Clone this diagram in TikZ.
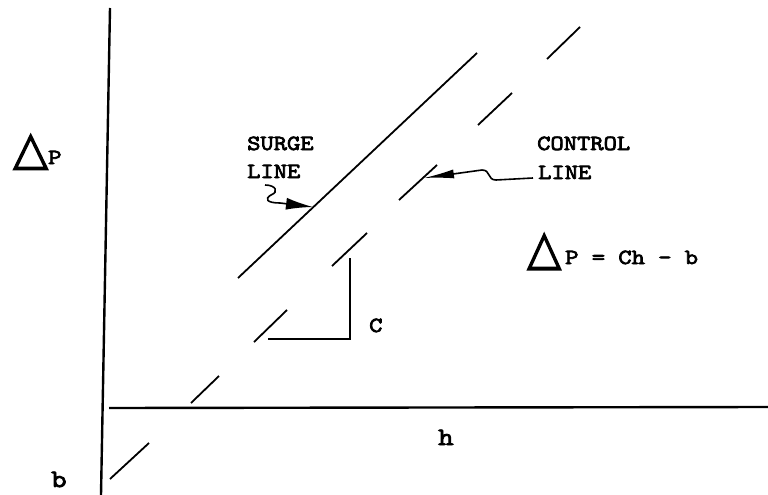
\documentclass[tikz,border=0pt]{standalone}
\usepackage{fontspec}
\setmonofont[FakeStretch=1.2,FakeBold=3.5]{Latin Modern Mono}
\newfontfamily\tri[FakeBold=2.5]{DejaVu Sans}
\usetikzlibrary{arrows.meta}
\begin{document}
\begin{tikzpicture}[x=1pt,y=-1pt,
  axis/.style={line width=2.4pt},
  curve/.style={line width=1.8pt},
  lbl/.style={font=\ttfamily\fontsize{21.5}{21.5}\selectfont, inner sep=0pt, anchor=base west},
  lowlbl/.style={lbl, font=\ttfamily\fontsize{25}{25}\selectfont},
  pointer/.style={line width=1.6pt, -{Latex[length=27pt,width=12pt]}},
  pointertwo/.style={line width=1.6pt, -{Latex[length=30pt,width=9pt]}}]
\useasboundingbox (0,0) rectangle (768,495);

% axes
\coordinate (ytop) at (110,8);
\coordinate (ybot) at (101,495);
\draw[axis] (ytop) -- (ybot);
\coordinate (hl) at (109,408);
\coordinate (hr) at (768,407);
\draw[axis] (hl) -- (hr);

% surge line
\coordinate (s1) at (238,278);
\coordinate (s2) at (477,53);
\draw[curve] (s1) -- (s2);

% control line (dashed)
\foreach \ax/\ay/\bx/\by in {110/479/149/443, 191/403/219/376, 254/342/287/310,
  332/266/367/233, 399/200/437/165, 478/125/512/93, 547/59/580/27}
  \draw[curve] (\ax,\ay) -- (\bx,\by);

% slope bracket
\coordinate (c1) at (268,339);
\coordinate (c2) at (350,339);
\coordinate (c3) at (350,258);
\draw[curve] (c1) -- (c2) -- (c3);

% labels
\node[lbl] (dp) at (13,164) {\resizebox{35pt}{30pt}{\tri △}P};
\node[lbl] (surge) at (247,150) {SURGE};
\node[lbl] (surgeline) at (247,178) {LINE};
\node[lbl] (control) at (537,150) {CONTROL};
\node[lbl] (controlline) at (538,179) {LINE};
\node[lbl] (eq) at (527,264) {\resizebox{34pt}{31pt}{\tri △}\hspace{4pt}P = Ch - b};
\node[lbl] (clbl) at (369,332) {C};
\node[lowlbl] (hlbl) at (438,445) {h};
\node[lowlbl] (blbl) at (51,487) {b};

% pointers
\coordinate (sa) at (265,185);
\coordinate (st) at (313,207);
\draw[pointer] (sa) .. controls (276,185) and (279,192) .. (271,195)
  .. controls (264,199) and (267,203) .. (280,203) -- (st);
\coordinate (ca) at (533,178);
\coordinate (ct) at (424,178);
\draw[pointertwo] (ca) -- (496,180) .. controls (487,180) and (491,170) .. (482,170) -- (ct);
\end{tikzpicture}
\end{document}
